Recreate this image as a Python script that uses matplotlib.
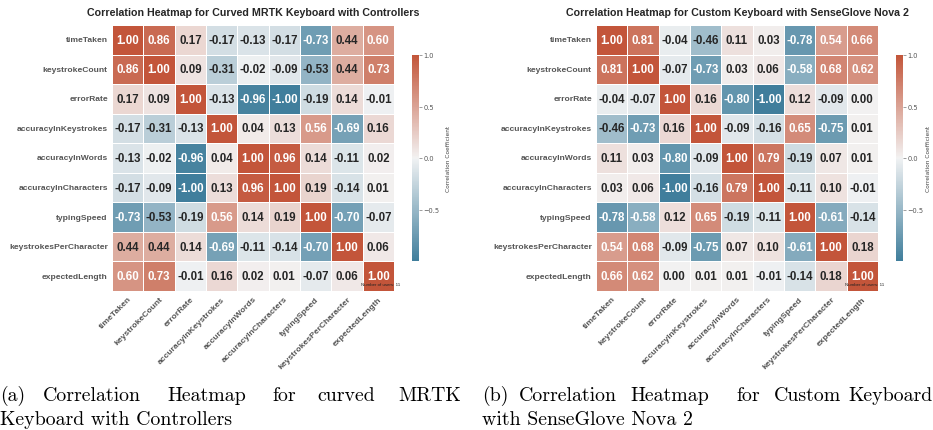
import numpy as np
import matplotlib
matplotlib.use("Agg")
import matplotlib.pyplot as plt
import seaborn as sns

labels = ["timeTaken", "keystrokeCount", "errorRate", "accuracyInKeystrokes",
          "accuracyInWords", "accuracyInCharacters", "typingSpeed",
          "keystrokesPerCharacter", "expectedLength"]

corr_mrtk = [
    [1.00, 0.86, 0.17, -0.17, -0.13, -0.17, -0.73, 0.44, 0.60],
    [0.86, 1.00, 0.09, -0.31, -0.02, -0.09, -0.53, 0.44, 0.73],
    [0.17, 0.09, 1.00, -0.13, -0.96, -1.00, -0.19, 0.14, -0.01],
    [-0.17, -0.31, -0.13, 1.00, 0.04, 0.13, 0.56, -0.69, 0.16],
    [-0.13, -0.02, -0.96, 0.04, 1.00, 0.96, 0.14, -0.11, 0.02],
    [-0.17, -0.09, -1.00, 0.13, 0.96, 1.00, 0.19, -0.14, 0.01],
    [-0.73, -0.53, -0.19, 0.56, 0.14, 0.19, 1.00, -0.70, -0.07],
    [0.44, 0.44, 0.14, -0.69, -0.11, -0.14, -0.70, 1.00, 0.06],
    [0.60, 0.73, -0.01, 0.16, 0.02, 0.01, -0.07, 0.06, 1.00],
]

corr_glove = [
    [1.00, 0.81, -0.04, -0.46, 0.11, 0.03, -0.78, 0.54, 0.66],
    [0.81, 1.00, -0.07, -0.73, 0.03, 0.06, -0.58, 0.68, 0.62],
    [-0.04, -0.07, 1.00, 0.16, -0.80, -1.00, 0.12, -0.09, 0.00],
    [-0.46, -0.73, 0.16, 1.00, -0.09, -0.16, 0.65, -0.75, 0.01],
    [0.11, 0.03, -0.80, -0.09, 1.00, 0.79, -0.19, 0.07, 0.01],
    [0.03, 0.06, -1.00, -0.16, 0.79, 1.00, -0.11, 0.10, -0.01],
    [-0.78, -0.58, 0.12, 0.65, -0.19, -0.11, 1.00, -0.61, -0.14],
    [0.54, 0.68, -0.09, -0.75, 0.07, 0.10, -0.61, 1.00, 0.18],
    [0.66, 0.62, 0.00, 0.01, 0.01, -0.01, -0.14, 0.18, 1.00],
]

titles = ["Correlation Heatmap for Curved MRTK Keyboard with Controllers",
          "Correlation Heatmap for Custom Keyboard with SenseGlove Nova 2"]
n_users = 11

caption_a1 = ["(a)", "Correlation", "Heatmap", "for", "curved", "MRTK"]
caption_a2 = "Keyboard with Controllers"
caption_b1 = ["(b)", "Correlation", "Heatmap", "for", "Custom", "Keyboard"]
caption_b2 = "with SenseGlove Nova 2"

W, H = 933, 431
fig = plt.figure(figsize=(W / 100, H / 100), dpi=100)
fig.patch.set_facecolor("white")
cmap = sns.diverging_palette(230, 20, as_cmap=True)

def px(x0, y0, x1, y1):
    return [x0 / W, 1 - y1 / H, (x1 - x0) / W, (y1 - y0) / H]

panels = [
    (corr_mrtk, titles[0], px(112, 26, 394, 292), px(412, 56, 419, 262), 400, 5),
    (corr_glove, titles[1], px(596, 26, 878, 292), px(896, 56, 903, 262), 884, 2),
]

for data, title, axpos, cbpos, nx, lpad in panels:
    ax = fig.add_axes(axpos)
    cax = fig.add_axes(cbpos)
    sns.heatmap(np.array(data), ax=ax, cbar_ax=cax, cmap=cmap, center=0,
                vmin=-1, vmax=1, annot=True, fmt=".2f",
                annot_kws={"fontsize": 8.3, "fontweight": "bold", "family": "Liberation Sans"},
                linewidths=0.6, linecolor="white",
                xticklabels=labels, yticklabels=labels,
                cbar_kws={"label": "Correlation Coefficient"})
    ax.set_title(title, fontsize=7.7, fontweight="bold", family="Liberation Sans",
                 color="#262626", pad=7)
    ax.tick_params(length=0, pad=3)
    for t in ax.get_xticklabels():
        t.set_rotation(45)
        t.set_ha("right")
        t.set_rotation_mode("anchor")
        t.set_fontsize(6.1)
        t.set_fontweight("bold")
        t.set_color("#555555")
        t.set_family("Liberation Sans")
    for t in ax.get_yticklabels():
        t.set_rotation(0)
        t.set_fontsize(6.1)
        t.set_fontweight("bold")
        t.set_color("#555555")
        t.set_family("Liberation Sans")
    cax.tick_params(labelsize=4.8, length=2, width=0.4, colors="#555555", pad=1)
    cax.yaxis.label.set_size(4.2)
    cax.yaxis.label.set_color("#444444")
    cax.yaxis.labelpad = lpad
    cax.set_yticks([-0.5, 0.0, 0.5, 1.0])
    for s in cax.spines.values():
        s.set_visible(False)
    fig.text(nx / W, 1 - 285 / H, f"Number of users: {n_users}", fontsize=3.2,
             ha="right", va="center", color="#222222", family="Liberation Sans")

cap_kw = dict(fontsize=14.3, family="cmr10", color="black", va="baseline")
xs_a = [0, 43, 167, 272, 317, 398]
xs_b = [482, 519, 630, 736, 774, 848]
for words, xs in ((caption_a1, xs_a), (caption_b1, xs_b)):
    for w, x in zip(words, xs):
        fig.text(x / W, 1 - 401 / H, w, **cap_kw)
fig.text(0 / W, 1 - 425 / H, caption_a2, **cap_kw)
fig.text(482 / W, 1 - 425 / H, caption_b2, **cap_kw)

fig.savefig("out.png", dpi=100, facecolor="white")
